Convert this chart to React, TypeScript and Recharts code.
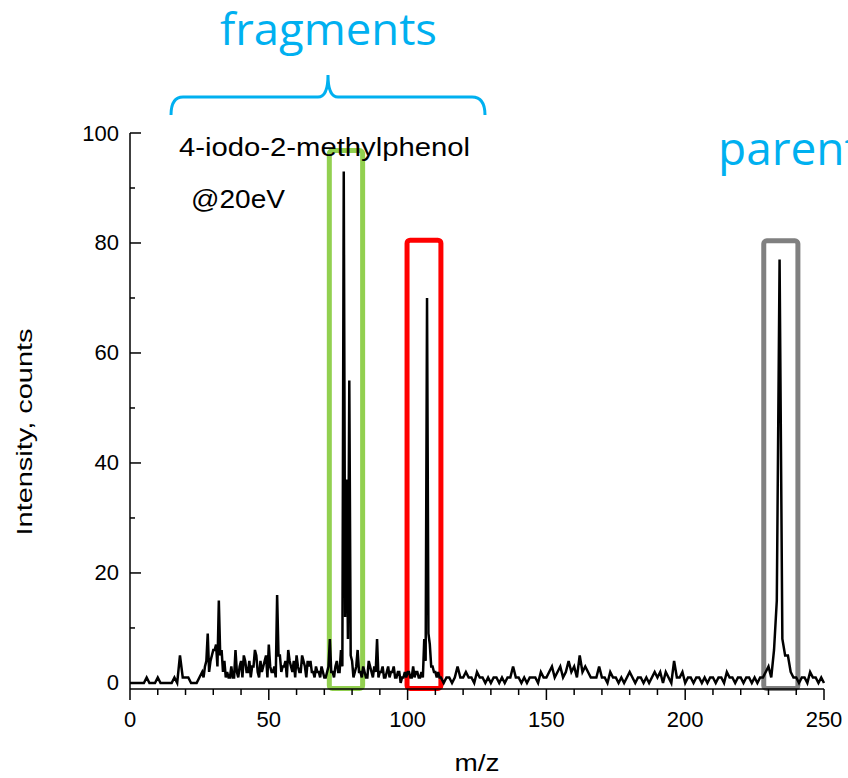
import { LineChart, Line, XAxis, YAxis, ReferenceArea } from "recharts"

// counts per integer m/z
const counts0to69 = [
  0, 0, 0, 0, 0, 0, 1, 0, 0, 0, 1, 0, 0, 0, 0, 0, 1, 0, 5, 1,
  1, 1, 0, 0, 0, 1, 2, 3, 9, 4, 6, 7, 15, 6, 4, 2, 1, 1, 6, 1,
  4, 5, 2, 4, 3, 6, 2, 4, 3, 5, 7, 2, 3, 16, 5, 3, 4, 6, 3, 4,
  5, 2, 5, 3, 4, 4, 2, 3, 2, 3,
]
const counts70to129 = [
  1, 2, 8, 2, 3, 2, 6, 93, 37, 55, 4, 2, 6, 2, 3, 1, 4, 2, 3, 8,
  2, 3, 1, 3, 2, 3, 1, 2, 1, 2, 2, 1, 3, 2, 1, 2, 8, 70, 7, 3,
  2, 2, 1, 0, 1, 1, 0, 1, 3, 1, 1, 2, 1, 1, 0, 2, 1, 1, 0, 1,
]
const counts130to199 = [
  0, 1, 1, 0, 1, 0, 1, 1, 3, 1, 1, 0, 1, 0, 1, 1, 1, 0, 2, 1,
  1, 2, 3, 1, 2, 3, 1, 2, 4, 2, 3, 1, 5, 2, 3, 2, 1, 1, 1, 3,
  1, 1, 0, 2, 1, 1, 0, 1, 0, 1, 2, 1, 0, 1, 1, 0, 1, 0, 1, 2,
  1, 2, 0, 2, 1, 0, 4, 1, 1, 2,
]
const counts200to250 = [
  0, 1, 1, 0, 1, 1, 0, 1, 0, 1, 1, 0, 1, 1, 0, 2, 1, 1, 0, 1,
  1, 0, 1, 1, 0, 1, 0, 1, 1, 2, 3, 1, 6, 15, 77, 8, 5, 5, 2, 1,
  1, 0, 1, 1, 0, 2, 1, 1, 0, 1, 0,
]

// extra half-step readings in the busy 26.5 – 111.5 region
const halfStepStart = 26.5
const halfStepCounts = [
  1, 4, 2, 5, 6, 3, 5, 2, 1, 1, 3, 1, 2, 3, 1, 4, 2, 1, 3, 5,
  1, 2, 4, 1, 3, 2, 1, 5, 2, 3, 1, 4, 2, 1, 3, 2, 4, 1, 3, 2,
  1, 2, 1, 2,
  1, 3, 2, 1, 4, 2, 3, 12, 8, 5, 1, 3, 2, 1, 2, 1, 3, 1, 2, 1,
  2, 1, 2, 1, 2, 1, 2, 0, 1, 1, 2, 1, 1, 2, 1, 1, 4, 9, 3, 2,
  1, 1,
]

const allCounts = [...counts0to69, ...counts70to129, ...counts130to199, ...counts200to250]
const data = [
  ...allCounts.map((c, i) => ({ mz: i, counts: c })),
  ...halfStepCounts.map((c, i) => ({ mz: halfStepStart + i, counts: c })),
].sort((a, b) => a.mz - b.mz)

const xTicks = [0, 10, 20, 30, 40, 50, 60, 70, 80, 90, 100, 110, 120, 130, 140, 150, 160, 170, 180, 190, 200, 210, 220, 230, 240, 250]
const yTicks = [0, 10, 20, 30, 40, 50, 60, 70, 80, 90, 100]

// highlight boxes: [x1, x2, top]
const fragmentBoxA = [71.8, 83.8, 96.8]
const fragmentBoxB = [99.8, 112, 80.5]
const parentBox = [228.3, 240.6, 80.4]

const FONT = "'Liberation Sans', Arial, sans-serif"
const BLUE = "#00b0f0"

function XTick({ x, y, payload }: any) {
  const major = payload.value % 50 === 0
  return (
    <g>
      <line x1={x} y1={y} x2={x} y2={y + (major ? 11 : 6)} stroke="#000" strokeWidth={1.5} />
      {major && (
        <text x={x} y={y + 38} textAnchor="middle" fontSize={22} fontFamily={FONT} fill="#000">
          {payload.value}
        </text>
      )}
    </g>
  )
}

function YTick({ x, y, payload }: any) {
  const major = payload.value % 20 === 0
  return (
    <g>
      <line x1={x} y1={y} x2={x + (major ? 11 : 5)} y2={y} stroke="#000" strokeWidth={1.5} />
      {major && (
        <text x={x - 11} y={y} textAnchor="end" dominantBaseline="central" fontSize={22} fontFamily={FONT} fill="#000">
          {payload.value}
        </text>
      )}
    </g>
  )
}

export default function App() {
  return (
    <div style={{ position: "absolute", left: 0, top: 0, width: 848, height: 778, background: "#fff" }}>
      <LineChart
        width={848}
        height={778}
        data={data}
        margin={{ top: 133, right: 24, bottom: 39, left: 60 }}
      >
        <XAxis
          dataKey="mz"
          type="number"
          domain={[0, 250]}
          ticks={xTicks}
          interval={0}
          tickSize={0}
          tickMargin={0}
          tickLine={false}
          axisLine={{ stroke: "#000", strokeWidth: 1.5 }}
          tick={<XTick />}
          height={50}
          label={{
            content: () => (
              <text x={477} y={771} textAnchor="middle" fontSize={24} fontFamily={FONT} fill="#000" textLength={45} lengthAdjust="spacingAndGlyphs">
                m/z
              </text>
            ),
          }}
        />
        <YAxis
          type="number"
          domain={[-1.1, 100]}
          allowDataOverflow
          ticks={yTicks}
          interval={0}
          tickSize={0}
          tickMargin={0}
          tickLine={false}
          axisLine={{ stroke: "#000", strokeWidth: 1.5 }}
          tick={<YTick />}
          width={70}
          label={{
            content: () => (
              <text
                x={32}
                y={432}
                transform="rotate(-90 32 432)"
                textAnchor="middle"
                fontSize={22}
                fontFamily={FONT}
                fill="#000"
                textLength={207}
                lengthAdjust="spacingAndGlyphs"
              >
                Intensity, counts
              </text>
            ),
          }}
        />
        <Line
          type="linear"
          dataKey="counts"
          stroke="#000"
          strokeWidth={2.5}
          dot={false}
          isAnimationActive={false}
        />
        <ReferenceArea x1={fragmentBoxA[0]} x2={fragmentBoxA[1]} y1={-1} y2={fragmentBoxA[2]} fill="none" stroke="#92d050" strokeWidth={5} radius={3} ifOverflow="visible" />
        <ReferenceArea x1={fragmentBoxB[0]} x2={fragmentBoxB[1]} y1={-1} y2={fragmentBoxB[2]} fill="none" stroke="#ff0000" strokeWidth={5} radius={3} ifOverflow="visible" />
        <ReferenceArea x1={parentBox[0]} x2={parentBox[1]} y1={-1} y2={parentBox[2]} fill="none" stroke="#808080" strokeWidth={5} radius={3} ifOverflow="visible" />
      </LineChart>
      <svg width={848} height={778} style={{ position: "absolute", left: 0, top: 0, pointerEvents: "none" }}>
        <text x={220} y={45} fontSize={44} fontFamily="'Open Sans', sans-serif" fill={BLUE} textLength={217} lengthAdjust="spacingAndGlyphs">
          fragments
        </text>
        <path
          d="M171,115 Q171,97 183,97 L318,97 Q328,97 328,75 Q328,97 338,97 L472,97 Q485,97 485,115"
          fill="none"
          stroke={BLUE}
          strokeWidth={3}
        />
        <text x={718} y={165} fontSize={46} fontFamily="'Open Sans', sans-serif" fill={BLUE}>
          parent
        </text>
        <text x={179} y={156} fontSize={25} fontFamily={FONT} fill="#000" textLength={291} lengthAdjust="spacingAndGlyphs">
          4-iodo-2-methylphenol
        </text>
        <text x={191} y={208} fontSize={25} fontFamily={FONT} fill="#000" textLength={94} lengthAdjust="spacingAndGlyphs">
          @20eV
        </text>
      </svg>
    </div>
  )
}
